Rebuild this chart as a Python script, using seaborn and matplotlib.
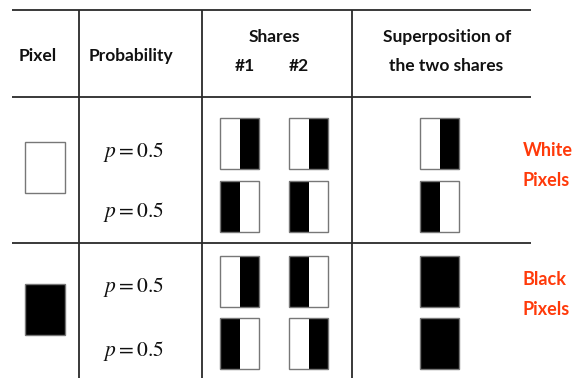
import matplotlib
matplotlib.use("Agg")
import matplotlib.pyplot as plt
import seaborn as sns
from matplotlib.patches import Rectangle

# ---- data ----
headers = ["Pixel", "Probability", "Shares", "Superposition of\nthe two shares"]
share_labels = ["#1", "#2"]
pixel_colors = [0, 1]                       # 0 = white pixel, 1 = black pixel
probabilities = [0.5, 0.5, 0.5, 0.5]
share1 = [[0, 1], [1, 0], [0, 1], [1, 0]]   # 1 = black half
share2 = [[0, 1], [1, 0], [1, 0], [0, 1]]
superposition = [[0, 1], [1, 0], [1, 1], [1, 1]]
group_labels = ["White\nPixels", "Black\nPixels"]

sns.set_theme(style="white")
plt.rcParams["font.family"] = ["Lato", "DejaVu Sans"]
plt.rcParams["mathtext.fontset"] = "stix"

fig = plt.figure(figsize=(5.72, 3.78), dpi=100)
ax = fig.add_axes([0, 0, 1, 1])
ax.set_xlim(0, 572)
ax.set_ylim(378, 0)
ax.axis("off")

line_kw = dict(color="#2a2a2a", lw=1.3, solid_capstyle="butt")
for y in [10, 97, 243]:
    ax.plot([12, 531], [y, y], **line_kw)
for x in [79, 202, 352]:
    ax.plot([x, x], [10, 378], **line_kw)

hfont = dict(fontsize=12.5, fontweight="bold", color="#111111", ha="center", va="baseline")
ax.text(38, 61, headers[0], **hfont)
ax.text(131, 61, headers[1], **hfont)
ax.text(274, 42, headers[2], **hfont)
ax.text(245, 71, share_labels[0], **hfont)
ax.text(299, 71, share_labels[1], **hfont)
sup1, sup2 = headers[3].split("\n")
ax.text(447, 42, sup1, **hfont)
ax.text(446, 71, sup2, **hfont)

pix_y = [142, 284]
for c, y in zip(pixel_colors, pix_y):
    ax.add_patch(Rectangle((25, y), 40, 51, facecolor="black" if c else "white",
                           edgecolor="#777777", lw=1.0))

prob_y = [157, 217, 292, 356]
for p, y in zip(probabilities, prob_y):
    ax.text(133, y, f"$p={p}$", fontsize=15.5, ha="center", va="baseline", color="#111111")

def draw_share(x0, y0, pattern, w=39, h=51):
    half = w / 2
    for i, v in enumerate(pattern):
        ax.add_patch(Rectangle((x0 + i * half, y0), half, h,
                               facecolor="black" if v else "white", edgecolor="none"))
    ax.add_patch(Rectangle((x0, y0), w, h, facecolor="none", edgecolor="#777777", lw=1.0))

row_y = [118, 181, 256, 318]
for y, s1, s2, sp in zip(row_y, share1, share2, superposition):
    draw_share(220, y, s1)
    draw_share(289, y, s2)
    draw_share(420, y, sp)

red = "#ff3a0a"
gfont = dict(fontsize=13, fontweight="bold", color=red, ha="left", va="baseline")
ax.text(523, 156, group_labels[0].split("\n")[0], **gfont)
ax.text(523, 186, group_labels[0].split("\n")[1], **gfont)
ax.text(523, 285, group_labels[1].split("\n")[0], **gfont)
ax.text(523, 315, group_labels[1].split("\n")[1], **gfont)

fig.savefig("out.png", dpi=100)
